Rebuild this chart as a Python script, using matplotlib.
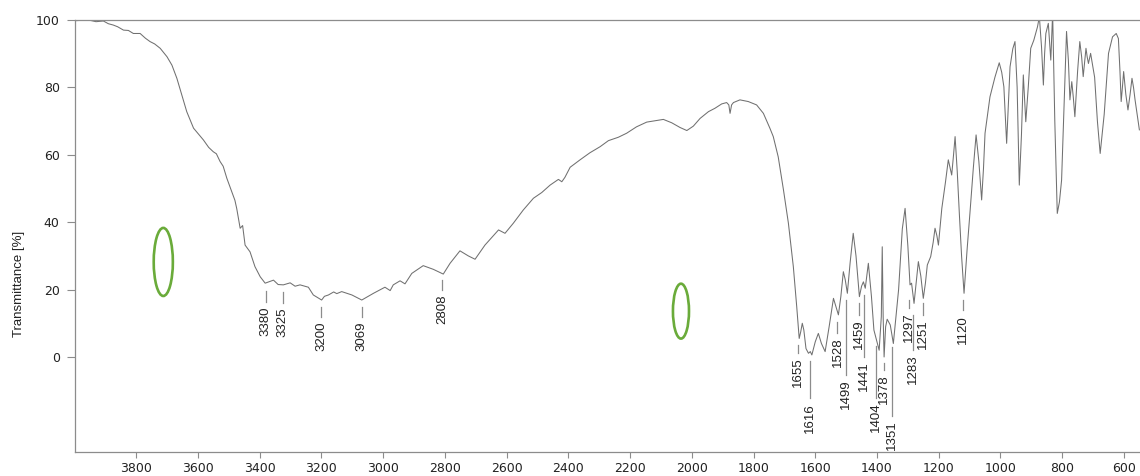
import matplotlib

matplotlib.use("Agg")
import matplotlib.pyplot as plt
from matplotlib.patches import Ellipse

# IR spectrum, wavenumber [cm-1] vs transmittance [%]
wavenumber = [
    3998, 3954, 3930, 3906, 3890, 3874, 3860, 3841, 3825, 3809, 3787, 3770, 3755,
    3740, 3722, 3700, 3684, 3668, 3652, 3636, 3614, 3582, 3565, 3550, 3540, 3528,
    3518, 3506, 3490, 3480, 3474, 3463, 3455, 3447, 3431, 3415, 3398, 3382, 3370,
    3355, 3340, 3323, 3301, 3285, 3269, 3242, 3226, 3199, 3190, 3177, 3160, 3150,
    3134, 3101, 3069, 3031, 2994, 2977, 2967, 2945, 2929, 2907, 2870, 2837, 2805,
    2783, 2751, 2724, 2702, 2670, 2626, 2605, 2578, 2546, 2513, 2486, 2459, 2432,
    2421, 2411, 2394, 2362, 2330, 2297, 2270, 2238, 2211, 2179, 2146, 2119, 2092,
    2065, 2038, 2016, 1995, 1973, 1946, 1925, 1903, 1887, 1880, 1876, 1871, 1865,
    1844, 1817, 1790, 1768, 1747, 1736, 1720, 1703, 1687, 1671, 1660, 1652, 1647,
    1642, 1637, 1630, 1622, 1616, 1611, 1600, 1590, 1580, 1568, 1555, 1541, 1533,
    1525, 1517, 1509, 1503, 1496, 1487, 1477, 1468, 1457, 1450, 1444, 1438, 1428,
    1418, 1410, 1403, 1393, 1386, 1383, 1380, 1377, 1372, 1367, 1357, 1347, 1330,
    1318, 1309, 1300, 1293, 1288, 1280, 1273, 1266, 1258, 1250, 1243, 1237, 1226,
    1218, 1212, 1206, 1201, 1190, 1178, 1169, 1163, 1158, 1152, 1147, 1140, 1133,
    1126, 1118, 1108, 1099, 1088, 1079, 1070, 1061, 1055, 1050, 1034, 1018, 1004,
    996, 989, 980, 974, 969, 960, 953, 946, 939, 932, 926, 918, 910, 902, 892,
    880, 874, 867, 861, 857, 853, 845, 837, 831, 824, 816, 809, 802, 795, 786,
    780, 775, 769, 764, 759, 750, 743, 737, 732, 727, 723, 719, 715, 708, 695,
    686, 677, 664, 650, 637, 625, 618, 613, 609, 605, 601, 594, 587, 580, 574,
    569, 564, 550,
]
transmittance = [
    99.8, 100.0, 99.5, 99.7, 98.9, 98.5, 98.0, 97.0, 96.9, 96.0, 96.0, 94.6, 93.6,
    92.9, 91.6, 89.1, 86.6, 82.7, 77.7, 72.8, 67.9, 64.4, 62.2, 60.9, 60.3, 58.0,
    56.6, 53.0, 49.0, 46.5, 44.0, 38.2, 39.0, 33.2, 31.2, 26.8, 23.8, 21.9, 22.3,
    22.8, 21.5, 21.4, 22.0, 21.0, 21.4, 20.7, 18.4, 16.9, 18.0, 18.4, 19.3, 18.8,
    19.4, 18.4, 16.9, 18.9, 20.7, 19.7, 21.4, 22.6, 21.7, 24.8, 27.1, 26.0, 24.6,
    27.8, 31.5, 30.0, 29.0, 33.2, 37.7, 36.7, 39.7, 43.6, 47.1, 48.8, 51.0, 52.7,
    52.0, 53.3, 56.3, 58.5, 60.6, 62.4, 64.2, 65.2, 66.4, 68.3, 69.7, 70.1, 70.5,
    69.5, 68.1, 67.2, 68.5, 70.8, 72.8, 73.8, 75.1, 75.5, 74.8, 72.3, 74.8, 75.5,
    76.3, 75.8, 74.8, 72.3, 67.9, 65.4, 59.4, 49.6, 39.7, 26.8, 14.9, 5.5, 7.5,
    10.0, 8.0, 2.5, 1.1, 1.6, 0.6, 4.5, 7.0, 4.0, 1.6, 9.0, 17.4, 15.0, 12.5,
    18.0, 25.3, 23.0, 18.9, 28.0, 36.7, 30.0, 17.9, 21.0, 22.3, 20.4, 27.8, 18.0,
    8.0, 5.5, 2.0, 12.0, 32.7, 12.0, 0.0, 9.0, 11.2, 9.5, 4.0, 20.0, 38.0, 44.1,
    33.0, 21.4, 21.9, 15.9, 22.0, 28.3, 24.0, 17.4, 22.0, 27.3, 29.8, 34.0, 38.2,
    36.0, 33.2, 44.1, 52.0, 58.5, 56.0, 54.0, 60.0, 65.4, 55.0, 42.1, 30.0, 18.9,
    32.0, 42.6, 56.0, 65.9, 58.0, 46.6, 56.0, 66.4, 77.2, 83.0, 87.3, 84.5, 80.2,
    63.4, 76.0, 86.1, 91.5, 93.6, 80.0, 51.0, 66.0, 83.7, 69.8, 80.0, 91.6, 94.0,
    98.0, 101.0, 92.0, 80.7, 90.0, 96.0, 99.0, 88.1, 102.0, 70.0, 42.6, 46.0, 52.5,
    72.0, 96.6, 88.0, 76.3, 81.7, 77.0, 71.3, 85.0, 93.6, 89.0, 83.2, 88.0, 91.6,
    89.0, 87.1, 90.1, 83.0, 70.0, 60.4, 72.0, 90.1, 95.0, 96.0, 94.5, 85.0, 75.8,
    80.0, 84.7, 78.0, 73.3, 78.0, 82.7, 80.0, 76.3, 67.4,
]

# annotated bands
peak_labels = [
    "3380", "3325", "3200", "3069", "2808", "1655", "1616", "1528", "1499",
    "1459", "1441", "1404", "1378", "1351", "1297", "1283", "1251", "1120",
]
# (top, bottom) of each marker line, in transmittance units
peak_marks = {
    "3380": (19.6, 16.3), "3325": (19.3, 16.0), "3200": (14.8, 11.9),
    "3069": (14.8, 11.9), "2808": (22.8, 19.9), "1655": (3.6, 1.2),
    "1616": (-1.2, -12.2), "1528": (10.4, 7.1), "1499": (16.9, -5.3),
    "1459": (16.0, 12.5), "1441": (18.4, 0.0), "1404": (3.3, -12.2),
    "1378": (-1.8, -3.9), "1351": (3.0, -17.5), "1297": (16.9, 14.5),
    "1283": (12.5, 2.1), "1251": (16.0, 12.5), "1120": (16.9, 13.9),
}

# highlighted regions: (wavenumber, transmittance, width, height)
highlights = [(3712, 28.2, 62, 20.2), (2035, 13.6, 52, 16.3)]

GREY = "#8c8c8c"
NARROW = ["Liberation Sans Narrow", "DejaVu Sans Condensed", "Liberation Sans"]


def draw_spectrum(out_path: str):
    """
    draw_spectrum 绘制红外光谱图并标注吸收峰

    Args:
        out_path (str): 输出图片路径
    """
    fig = plt.figure(figsize=(11.4, 4.76), dpi=100)
    ax = fig.add_axes([75 / 1140, 24 / 476, 1065 / 1140, 432 / 476])

    ax.plot(wavenumber, transmittance, color="#707070", lw=0.75)
    ax.set_xlim(3998, 548)
    ax.set_ylim(-28.2, 100)

    ax.set_xticks(range(3800, 599, -200))
    ax.set_yticks(range(0, 101, 20))
    ax.tick_params(axis="both", colors=GREY, labelcolor="#222222", labelsize=9)
    ax.tick_params(axis="x", length=4.5, pad=2.5)
    ax.tick_params(axis="y", length=6, pad=5)
    for side in ("left", "bottom", "top"):
        ax.spines[side].set_color(GREY)
        ax.spines[side].set_linewidth(0.9)
    ax.spines["right"].set_visible(False)

    ax.set_ylabel("Transmittance [%]", family=NARROW, fontsize=9.5, color="#222222")
    ax.yaxis.set_label_coords(-0.047, 0.39)

    for label in peak_labels:
        top, bottom = peak_marks[label]
        wn = float(label)
        ax.plot([wn, wn], [top, bottom], color=GREY, lw=0.9)
        ax.text(
            wn,
            bottom - 1.4,
            label,
            rotation=90,
            ha="center",
            va="top",
            fontsize=9.5,
            color="#222222",
            family=NARROW,
        )

    for x, y, w, h in highlights:
        ax.add_patch(Ellipse((x, y), w, h, fill=False, edgecolor="#6aab3a", lw=1.9))

    fig.savefig(out_path, dpi=100)
    plt.close(fig)


if __name__ == "__main__":
    draw_spectrum("out.png")
